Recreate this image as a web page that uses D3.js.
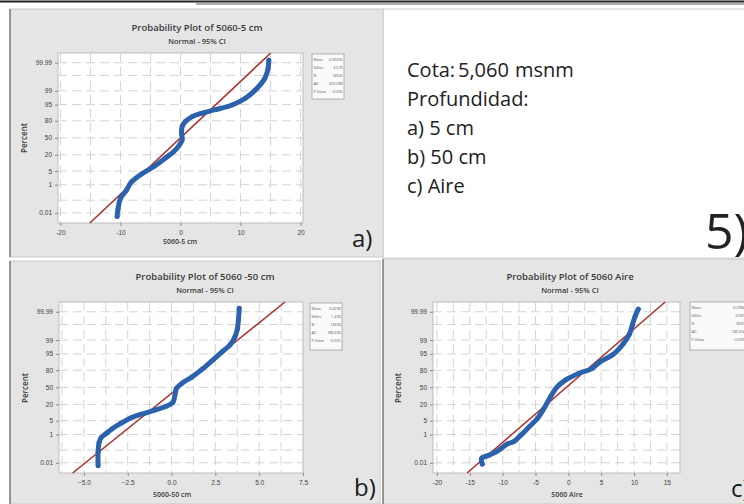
<!DOCTYPE html>
<html>
<head>
<meta charset="utf-8">
<script src="https://cdn.jsdelivr.net/npm/d3@7"></script>
<style>
  body { margin: 0; background: #fff; }
  svg { display: block; font-family: "Open Sans", sans-serif; }
</style>
</head>
<body>
<div id="chart"></div>
<script>
// a) 5060-5 cm : values (x, cumulative percent)
var a_values = [-10.55, -10.4, -10.0, -9.0, -8.2, -6.5, -4.3, -2.5, -1.1, -0.17, 0.28, 0.17, 0.28, 0.83, 1.95, 3.6, 5.8, 8.6, 10.8, 12.8, 14.05, 14.6, 14.7];
var a_percents = [0.0048, 0.023, 0.135, 0.47, 1.39, 3.6, 8.1, 15.9, 24.8, 36.3, 46.0, 59.1, 71.2, 79.1, 85.3, 88.9, 91.8, 94.8, 97.5, 99.31, 99.84, 99.972, 99.994];
var a_stats = ["-0.00035", "3.576", "14925", "652.088", "<0.005"];
var a_mean = -0.00035, a_sd = 3.576;
var a_xticks = [-20, -10, 0, 10, 20];
var a_xgrid = [-20, -15, -10, -5, 0, 5, 10, 15, 20];

// b) 5060-50 cm
var b_values = [-4.19, -4.19, -4.13, -4.0, -3.75, -3.4, -2.9, -2.3, -1.7, -0.95, -0.3, 0.07, 0.21, 0.27, 0.6, 1.15, 1.7, 2.3, 2.9, 3.35, 3.6, 3.75, 3.82, 3.86];
var b_percents = [0.0057, 0.069, 0.336, 0.695, 1.10, 2.02, 3.75, 6.68, 9.34, 13.1, 17.6, 22.7, 37.8, 47.2, 57.9, 69.1, 80.5, 90.3, 96.0, 98.21, 99.29, 99.78, 99.96, 99.995];
var b_stats = ["0.4298", "1.438", "14958", "186.696", "<0.005"];
var b_mean = 0.4298, b_sd = 1.438;
var b_xticks = [-5, -2.5, 0, 2.5, 5, 7.5];
var b_xgrid = [-6.25, -5, -3.75, -2.5, -1.25, 0, 1.25, 2.5, 3.75, 5, 6.25, 7.5];

// c) 5060 Aire
var c_values = [-13.1, -13.2, -12.3, -11.1, -10.3, -9.3, -8.3, -7.3, -6.0, -4.75, -3.74, -2.73, -1.7, -0.45, 1.56, 3.59, 4.8, 6.8, 8.4, 9.3, 9.75, 10.15, 10.65];
var c_percents = [0.0078, 0.0233, 0.0376, 0.0687, 0.122, 0.264, 0.379, 0.866, 2.50, 6.06, 14.5, 31.6, 50.8, 63.7, 75.2, 82.1, 89.4, 94.7, 98.46, 99.56, 99.893, 99.975, 99.994];
var c_stats = ["-0.2984", "3.581", "9947", "148.354", "<0.005"];
var c_mean = -0.2984, c_sd = 3.581;
var c_xticks = [-20, -15, -10, -5, 0, 5, 10, 15];
var c_xgrid = [-20, -17.5, -15, -12.5, -10, -7.5, -5, -2.5, 0, 2.5, 5, 7.5, 10, 12.5, 15];

var stat_labels = ["Mean", "StDev", "N", "AD", "P-Value"];
var y_ticks = [0.01, 1, 5, 20, 50, 80, 95, 99, 99.99];
var y_grid = [0.01, 0.1, 1, 5, 20, 50, 80, 95, 99, 99.9, 99.99];
var info_lines = ["Profundidad:", "a) 5 cm", "b) 50 cm", "c) Aire"];

var width = 744, height = 504;

var svg = d3.select("#chart").append("svg")
  .attr("width", width)
  .attr("height", height);

// inverse normal cdf (Acklam) -> used for the probability axis
function probit(p) {
  var a = [-3.969683028665376e+01, 2.209460984245205e+02, -2.759285104469687e+02, 1.383577518672690e+02, -3.066479806614716e+01, 2.506628277459239e+00];
  var b = [-5.447609879822406e+01, 1.615858368580409e+02, -1.556989798598866e+02, 6.680131188771972e+01, -1.328068155288572e+01];
  var c = [-7.784894002430293e-03, -3.223964580411365e-01, -2.400758277161838e+00, -2.549732539343734e+00, 4.374664141464968e+00, 2.938163982698783e+00];
  var d = [7.784695709041462e-03, 3.224671290700398e-01, 2.445134137142996e+00, 3.754408661907416e+00];
  var pl = 0.02425, q, r;
  if (p < pl) {
    q = Math.sqrt(-2 * Math.log(p));
    return (((((c[0] * q + c[1]) * q + c[2]) * q + c[3]) * q + c[4]) * q + c[5]) / ((((d[0] * q + d[1]) * q + d[2]) * q + d[3]) * q + 1);
  }
  if (p > 1 - pl) {
    q = Math.sqrt(-2 * Math.log(1 - p));
    return -(((((c[0] * q + c[1]) * q + c[2]) * q + c[3]) * q + c[4]) * q + c[5]) / ((((d[0] * q + d[1]) * q + d[2]) * q + d[3]) * q + 1);
  }
  q = p - 0.5; r = q * q;
  return (((((a[0] * r + a[1]) * r + a[2]) * r + a[3]) * r + a[4]) * r + a[5]) * q / (((((b[0] * r + b[1]) * r + b[2]) * r + b[3]) * r + b[4]) * r + 1);
}

// top rule of the page
svg.append("line").attr("x1", 0).attr("x2", width).attr("y1", 1.5).attr("y2", 1.5)
  .attr("stroke", "#222").attr("stroke-width", 2);
svg.append("line").attr("x1", 196).attr("x2", width).attr("y1", 4).attr("y2", 4)
  .attr("stroke", "#555").attr("stroke-width", 1);

var draw_panel = function (p) {
  var g = svg.append("g");

  // gray background of the minitab graph
  g.append("rect")
    .attr("x", p.box[0]).attr("y", p.box[1])
    .attr("width", p.box[2]).attr("height", p.box[3])
    .attr("fill", "#e5e5e5")
    .attr("stroke", "#c8c8c8");
  g.append("line")
    .attr("x1", p.box[0]).attr("x2", p.box[0])
    .attr("y1", p.box[1]).attr("y2", p.box[1] + p.box[3])
    .attr("stroke", "#666").attr("stroke-width", 1.2);

  var x = d3.scaleLinear().domain(p.xdomain).range(p.xrange);
  var yz = d3.scaleLinear().domain([-4.22, 4.2]).range(p.yrange);
  var y = function (pct) { return yz(probit(pct / 100)); };

  // plot area
  g.append("rect")
    .attr("x", p.xrange[0]).attr("y", p.yrange[1])
    .attr("width", p.xrange[1] - p.xrange[0])
    .attr("height", p.yrange[0] - p.yrange[1])
    .attr("fill", "#fff")
    .attr("stroke", "#bdbdbd");

  // grid
  g.append("g").selectAll("line")
    .data(p.xgrid)
    .enter()
    .append("line")
    .attr("x1", function (d) { return x(d); })
    .attr("x2", function (d) { return x(d); })
    .attr("y1", p.yrange[1]).attr("y2", p.yrange[0])
    .attr("stroke", "#d4d4d4")
    .attr("stroke-dasharray", "9,5");
  g.append("g").selectAll("line")
    .data(y_grid)
    .enter()
    .append("line")
    .attr("x1", p.xrange[0]).attr("x2", p.xrange[1])
    .attr("y1", function (d) { return y(d); })
    .attr("y2", function (d) { return y(d); })
    .attr("stroke", "#d4d4d4")
    .attr("stroke-dasharray", "9,5");

  // axes
  var xAxis = d3.axisBottom(x)
    .tickValues(p.xticks)
    .tickSize(3)
    .tickFormat(p.xfmt);
  var gx = g.append("g")
    .attr("transform", "translate(0," + p.yrange[0] + ")")
    .call(xAxis);
  gx.select(".domain").remove();
  gx.selectAll("line").attr("stroke", "#888");
  gx.selectAll("text").attr("fill", "#444").style("font-size", "6.5px").attr("dy", "0.9em");

  var yAxis = d3.axisLeft(yz)
    .tickValues(y_ticks.map(function (d) { return probit(d / 100); }))
    .tickSize(3)
    .tickFormat(function (d, i) { return String(y_ticks[i]); });
  var gy = g.append("g")
    .attr("transform", "translate(" + p.xrange[0] + ",0)")
    .call(yAxis);
  gy.select(".domain").remove();
  gy.selectAll("line").attr("stroke", "#888");
  gy.selectAll("text").attr("fill", "#444").style("font-size", "6.5px");

  // fitted line from mean and stdev
  var zs = [-4.22, 4.2];
  g.append("line")
    .attr("x1", x(p.mean + p.sd * zs[0]))
    .attr("x2", x(p.mean + p.sd * zs[1]))
    .attr("y1", yz(zs[0])).attr("y2", yz(zs[1]))
    .attr("stroke", "#a8322c")
    .attr("stroke-width", 1.6);

  // data
  var pts = p.values.map(function (v, i) { return [v, p.percents[i]]; });
  var line = d3.line()
    .x(function (d) { return x(d[0]); })
    .y(function (d) { return y(d[1]); })
    .curve(d3.curveCatmullRom);
  g.append("path")
    .datum(pts)
    .attr("d", line)
    .attr("fill", "none")
    .attr("stroke", "#2c62ad")
    .attr("stroke-width", 5)
    .attr("stroke-linecap", "round")
    .attr("stroke-linejoin", "round");
  g.append("g").selectAll("circle")
    .data(pts)
    .enter()
    .append("circle")
    .attr("cx", function (d) { return x(d[0]); })
    .attr("cy", function (d) { return y(d[1]); })
    .attr("r", 2.4)
    .attr("fill", "#2c62ad");

  // titles
  g.append("text")
    .attr("x", p.title[0]).attr("y", p.title[1])
    .attr("text-anchor", "middle")
    .style("font-size", "9.5px").style("font-weight", 600)
    .attr("fill", "#3a3a3a")
    .text(p.titleText);
  g.append("text")
    .attr("x", p.title[0]).attr("y", p.title[1] + 13)
    .attr("text-anchor", "middle")
    .style("font-size", "7.5px").style("font-weight", 600)
    .attr("fill", "#3a3a3a")
    .text("Normal - 95% CI");
  g.append("text")
    .attr("transform", "translate(" + p.ylab[0] + "," + p.ylab[1] + ") rotate(-90)")
    .attr("text-anchor", "middle")
    .style("font-size", "8px").style("font-weight", 600)
    .attr("fill", "#3a3a3a")
    .text("Percent");
  g.append("text")
    .attr("x", p.xlab[0]).attr("y", p.xlab[1])
    .attr("text-anchor", "middle")
    .style("font-size", "7px").style("font-weight", 600)
    .attr("fill", "#3a3a3a")
    .text(p.xlabText);

  // stats box
  var lg = p.legend;
  g.append("rect")
    .attr("x", lg[0]).attr("y", lg[1])
    .attr("width", lg[2]).attr("height", lg[3])
    .attr("fill", "#fafafa")
    .attr("stroke", "#a0a0a0")
    .attr("stroke-width", 0.8);
  g.append("g").selectAll("text")
    .data(stat_labels)
    .enter()
    .append("text")
    .attr("x", lg[0] + 1.5)
    .attr("y", function (d, i) { return lg[1] + 7 + i * 8; })
    .style("font-size", "3.6px")
    .attr("fill", "#555")
    .text(function (d) { return d; });
  g.append("g").selectAll("text")
    .data(p.stats)
    .enter()
    .append("text")
    .attr("x", lg[0] + lg[2] - 1.5)
    .attr("y", function (d, i) { return lg[1] + 7 + i * 8; })
    .attr("text-anchor", "end")
    .style("font-size", "3.6px")
    .attr("fill", "#555")
    .text(function (d) { return d; });

  // panel letter
  g.append("text")
    .attr("x", p.letter[0]).attr("y", p.letter[1])
    .style("font-size", "24px")
    .attr("fill", "#1a1a1a")
    .text(p.letterText);
};

// text block on the upper right
svg.append("rect")
  .attr("x", 383).attr("y", 9).attr("width", 370).attr("height", 249)
  .attr("fill", "#fff").attr("stroke", "#cfcfcf");

var info = svg.append("g").style("font-size", "20px").attr("fill", "#222");
info.append("text").attr("x", 407).attr("y", 77).text("Cota:");
info.append("text").attr("x", 458).attr("y", 77).text("5,060");
info.append("text").attr("x", 515).attr("y", 77).text("msnm");
info.selectAll("text.line")
  .data(info_lines)
  .enter()
  .append("text")
  .attr("class", "line")
  .attr("x", 407)
  .attr("y", function (d, i) { return 106 + i * 29; })
  .text(function (d) { return d; });
info.append("text").attr("x", 705).attr("y", 249)
  .style("font-size", "50px").text("5)");

var fmt1 = function (d) { return d3.format(".1f")(d); };
var fmt0 = function (d) { return String(d); };

draw_panel({
  box: [10, 9, 373, 248],
  xrange: [58, 303], yrange: [223, 53], xdomain: [-20.4, 20.4],
  xticks: a_xticks, xgrid: a_xgrid, xfmt: fmt0,
  values: a_values, percents: a_percents, mean: a_mean, sd: a_sd, stats: a_stats,
  title: [197, 31], titleText: "Probability Plot of 5060-5 cm",
  ylab: [27, 138], xlab: [180, 244], xlabText: "5060-5 cm",
  legend: [312, 54, 32, 45],
  letter: [352, 247], letterText: "a)"
});

draw_panel({
  box: [10, 261, 370, 243],
  xrange: [59, 303], yrange: [473, 302], xdomain: [-6.42, 7.5],
  xticks: b_xticks, xgrid: b_xgrid, xfmt: fmt1,
  values: b_values, percents: b_percents, mean: b_mean, sd: b_sd, stats: b_stats,
  title: [205, 280], titleText: "Probability Plot of 5060 -50 cm",
  ylab: [28, 388], xlab: [172, 497], xlabText: "5060-50 cm",
  legend: [310, 303, 32, 47],
  letter: [354, 496], letterText: "b)"
});

draw_panel({
  box: [383, 259, 370, 245],
  xrange: [433, 680], yrange: [473, 302], xdomain: [-20.6, 17],
  xticks: c_xticks, xgrid: c_xgrid, xfmt: fmt0,
  values: c_values, percents: c_percents, mean: c_mean, sd: c_sd, stats: c_stats,
  title: [570, 280], titleText: "Probability Plot of 5060 Aire",
  ylab: [401, 388], xlab: [567, 497], xlabText: "5060 Aire",
  legend: [690, 302, 56, 48],
  letter: [731, 497], letterText: "c)"
});
</script>
</body>
</html>
